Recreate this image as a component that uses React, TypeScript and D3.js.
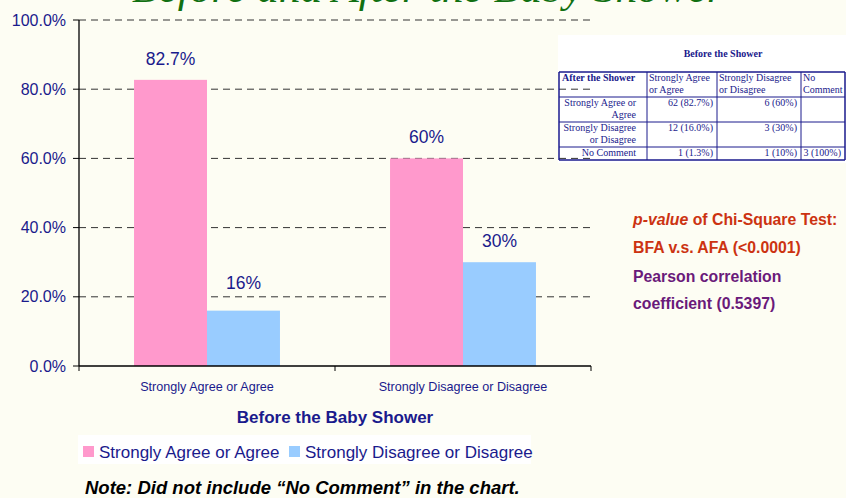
import { useMemo } from 'react';
import * as d3 from 'd3';

// Chart data
const categories = ['Strongly Agree or Agree', 'Strongly Disagree or Disagree'];
const seriesNames = ['Strongly Agree or Agree', 'Strongly Disagree or Disagree'];
const agreeAfter = [0.827, 0.6];
const disagreeAfter = [0.16, 0.3];
const valueLabels = [['82.7%', '60%'], ['16%', '30%']];
const yTicks = [0, 0.2, 0.4, 0.6, 0.8, 1.0];

// Cross table (Before x After)
const tableTitle = 'Before the Shower';
const tableCorner = 'After the Shower';
const tableColHeads = [['Strongly Agree', 'or Agree'], ['Strongly Disagree', 'or Disagree'], ['No', 'Comment']];
const tableRowHeads = [['Strongly Agree or', 'Agree'], ['Strongly Disagree', 'or Disagree'], ['No Comment']];
const tableCells = [
  ['62 (82.7%)', '6 (60%)', ''],
  ['12 (16.0%)', '3 (30%)', ''],
  ['1  (1.3%)', '1 (10%)', '3 (100%)'],
];

const W = 846;
const H = 498;
const BG = '#fdfdf3';
const NAVY = '#1a1a8c';
const SANS = '"Liberation Sans", Arial, sans-serif';
const SERIF = '"Liberation Serif", "Times New Roman", serif';
const COLORS = ['#ff99cc', '#99ccff'];

export default function App() {
  const margin = { top: 20, left: 79, right: 255, bottom: 132 };
  const plotBottom = H - margin.bottom; // 366
  const plotRight = W - margin.right; // 591

  const x = useMemo(
    () => d3.scaleBand<string>().domain(categories).range([margin.left, plotRight]).paddingInner(0.43).paddingOuter(0.215),
    []
  );
  const xs = useMemo(() => d3.scaleBand<string>().domain(seriesNames).range([0, x.bandwidth()]), [x]);
  const y = useMemo(() => d3.scaleLinear().domain([0, 1]).range([plotBottom, margin.top]), []);
  const fmt = d3.format('.1%');

  const series = [agreeAfter, disagreeAfter];

  // label sits 15px above the bar, pushed up above a gridline it would cross
  const labelY = (v: number) => {
    let base = y(v) - 15;
    for (const t of yTicks) {
      const gy = y(t);
      if (gy > base - 14 && gy < base + 3) base = gy - 8;
    }
    return base;
  };

  // table layout
  const colX = [559, 647, 717, 801, 845];
  const rowY = [72, 97, 122, 147, 160];

  const catEdges = [margin.left, ...categories.map((c) => (x(c) as number) - (x.step() - x.bandwidth()) / 2 + x.step())];

  return (
    <>
      <style>{`body{margin:0;background:${BG}}`}</style>
      <svg width={W} height={H} style={{ display: 'block', background: BG }}>
        {/* title, cut by the top edge as on the slide */}
        <text
          x={132}
          y={1.5}
          textLength={592}
          lengthAdjust="spacingAndGlyphs"
          fontFamily={SERIF}
          fontStyle="italic"
          fontSize={40}
          fill="#117011"
        >
          Before and After the Baby Shower
        </text>

        {/* white panels */}
        <rect x={558} y={35} width={W - 558} height={128} fill="#ffffff" />
        <rect x={78} y={435} width={453} height={29} fill="#ffffff" />

        {/* grid lines */}
        {yTicks.slice(1).map((t) => (
          <line key={t} x1={margin.left} x2={plotRight} y1={y(t)} y2={y(t)} stroke="#333" strokeDasharray="7,5" />
        ))}

        {/* bars */}
        {series.map((vals, si) =>
          categories.map((c, ci) => (
            <rect
              key={`${si}-${ci}`}
              x={(x(c) as number) + (xs(seriesNames[si]) as number)}
              y={y(vals[ci])}
              width={xs.bandwidth()}
              height={plotBottom - y(vals[ci])}
              fill={COLORS[si]}
            />
          ))
        )}

        {/* value labels */}
        {series.map((vals, si) =>
          categories.map((c, ci) => (
            <text
              key={`l${si}-${ci}`}
              x={(x(c) as number) + (xs(seriesNames[si]) as number) + xs.bandwidth() / 2}
              y={labelY(vals[ci])}
              textAnchor="middle"
              fontFamily={SANS}
              fontSize={17.5}
              fill={NAVY}
            >
              {valueLabels[si][ci]}
            </text>
          ))
        )}

        {/* y axis */}
        <line x1={margin.left} x2={margin.left} y1={margin.top} y2={plotBottom} stroke="#000" strokeWidth={1.3} />
        {yTicks.map((t) => (
          <g key={t}>
            <line x1={margin.left - 6} x2={margin.left} y1={y(t)} y2={y(t)} stroke="#000" />
            <text x={66} y={y(t) + 5.5} textAnchor="end" fontFamily={SANS} fontSize={16} fill={NAVY}>
              {fmt(t)}
            </text>
          </g>
        ))}

        {/* x axis */}
        <line x1={margin.left} x2={plotRight} y1={plotBottom} y2={plotBottom} stroke="#000" strokeWidth={1.3} />
        {catEdges.map((e, i) => (
          <line key={i} x1={e} x2={e} y1={plotBottom} y2={plotBottom + 5} stroke="#000" />
        ))}
        {categories.map((c) => (
          <text
            key={c}
            x={(x(c) as number) + x.bandwidth() / 2}
            y={391}
            textAnchor="middle"
            fontFamily={SANS}
            fontSize={12.6}
            fill={NAVY}
          >
            {c}
          </text>
        ))}
        <text x={335} y={423} textAnchor="middle" fontFamily={SANS} fontSize={17} fontWeight="bold" fill={NAVY}>
          Before the Baby Shower
        </text>

        {/* legend */}
        <rect x={83} y={446} width={11} height={11} fill={COLORS[0]} />
        <text x={99} y={457.5} fontFamily={SANS} fontSize={17} fill={NAVY}>
          {seriesNames[0]}
        </text>
        <rect x={289} y={446} width={11} height={11} fill={COLORS[1]} />
        <text x={305} y={457.5} fontFamily={SANS} fontSize={17} fill={NAVY}>
          {seriesNames[1]}
        </text>

        {/* note */}
        <text x={85} y={494} fontFamily={SANS} fontSize={18.5} fontWeight="bold" fontStyle="italic" fill="#000">
          Note: Did not include “No Comment” in the chart.
        </text>

        {/* statistics */}
        <g fontFamily={SANS} fontWeight="bold" fontSize={15.8}>
          <text x={633} y={225} fill="#cc3311">
            <tspan fontStyle="italic">p-value</tspan> of Chi-Square Test:
          </text>
          <text x={633} y={253} fill="#cc3311">
            BFA v.s. AFA (&lt;0.0001)
          </text>
          <text x={633} y={281.5} fill="#6a1a7a">
            Pearson correlation
          </text>
          <text x={633} y={309} fill="#6a1a7a">
            coefficient (0.5397)
          </text>
        </g>

        {/* cross table */}
        <g fontFamily={SERIF} fontSize={10} fill={NAVY} style={{ whiteSpace: 'pre' }}>
          <text x={723} y={57} textAnchor="middle" fontWeight="bold">
            {tableTitle}
          </text>
          {rowY.map((ry, i) => (
            <line key={`h${i}`} x1={colX[0]} x2={colX[4]} y1={ry} y2={ry} stroke={NAVY} strokeWidth={i === 0 || i === 4 ? 1.5 : 1} />
          ))}
          {colX.map((cx, i) => (
            <line key={`v${i}`} x1={cx} x2={cx} y1={rowY[0]} y2={rowY[4]} stroke={NAVY} strokeWidth={i === 0 || i === 4 ? 1.5 : 1} />
          ))}
          <text x={562} y={81} fontWeight="bold">
            {tableCorner}
          </text>
          {tableColHeads.map((lines, ci) =>
            lines.map((ln, li) => (
              <text key={`ch${ci}-${li}`} x={colX[ci + 1] + 2} y={81 + li * 11.5}>
                {ln}
              </text>
            ))
          )}
          {tableRowHeads.map((lines, ri) =>
            lines.map((ln, li) => (
              <text key={`rh${ri}-${li}`} x={636} y={rowY[ri + 1] + 9 + li * 11.8} textAnchor="end">
                {ln}
              </text>
            ))
          )}
          {tableCells.map((row, ri) =>
            row.map((cell, ci) => (
              <text key={`c${ri}-${ci}`} x={colX[ci + 2] - 4} y={rowY[ri + 1] + 8.5} textAnchor="end">
                {cell}
              </text>
            ))
          )}
        </g>
      </svg>
    </>
  );
}
